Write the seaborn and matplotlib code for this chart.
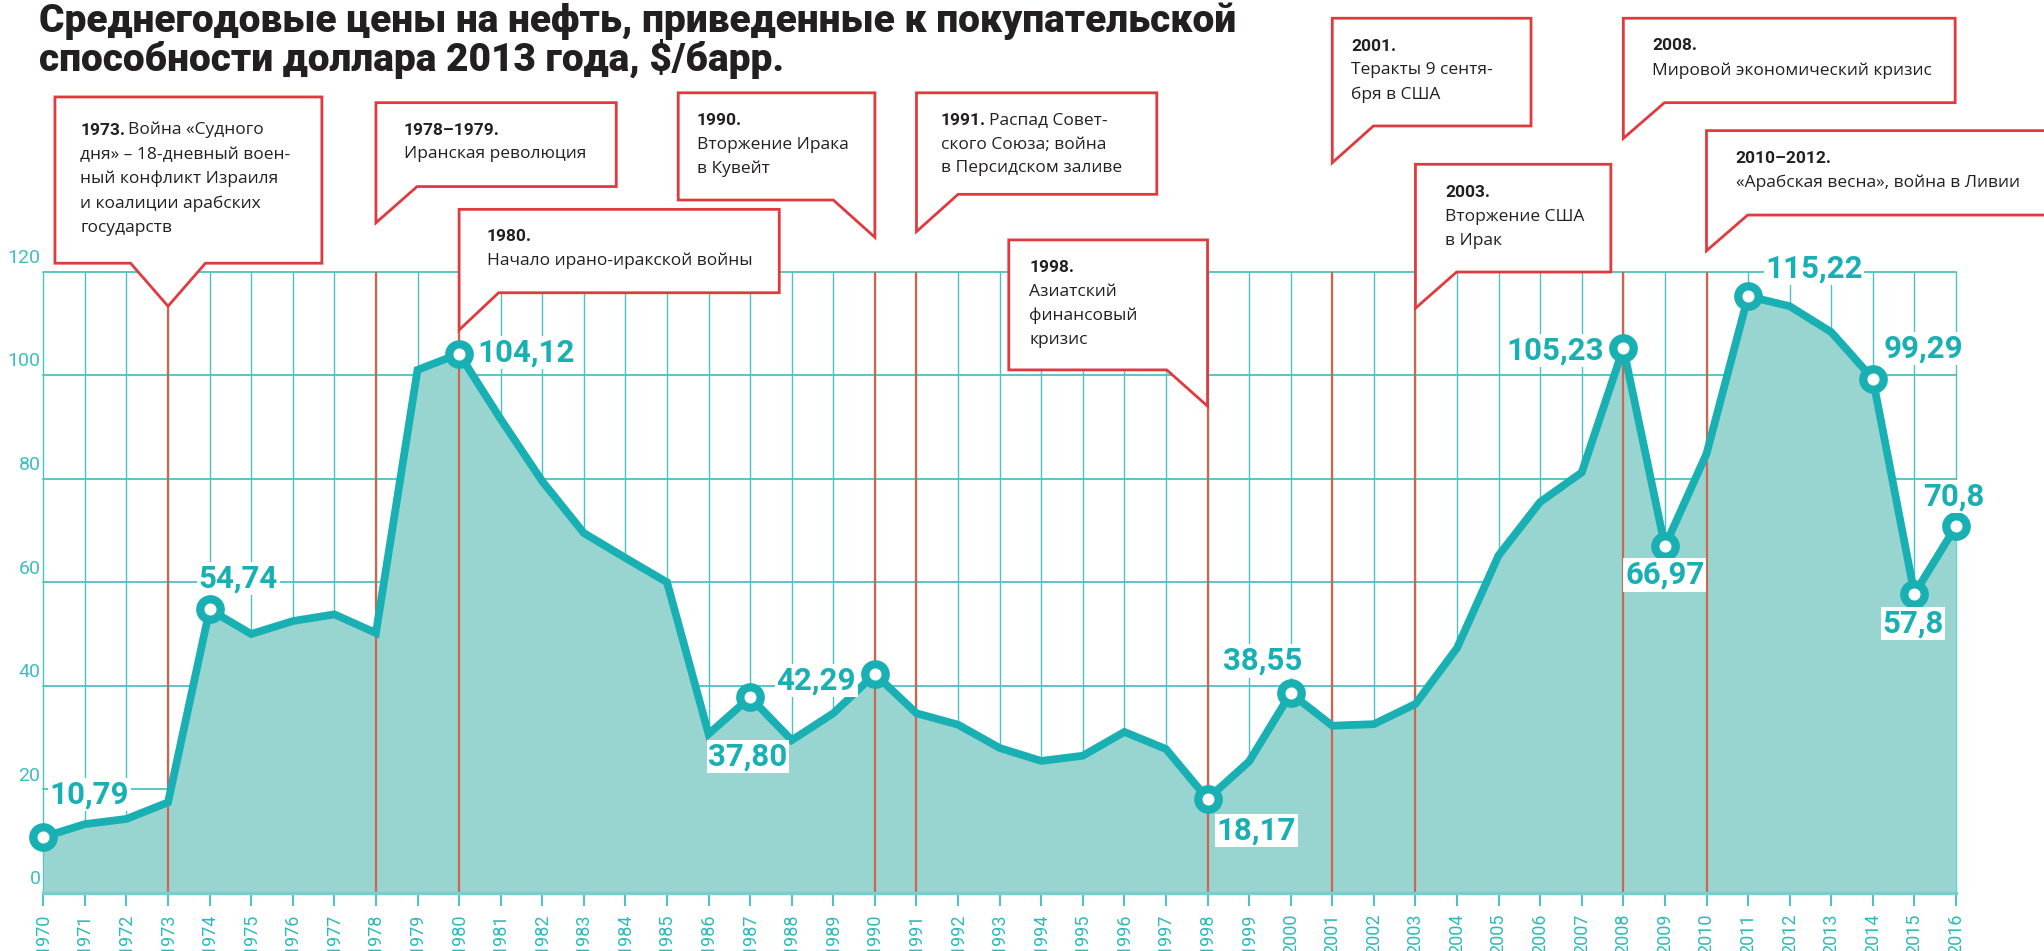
import matplotlib
matplotlib.use("Agg")
import matplotlib.pyplot as plt
import seaborn as sns

# average oil price, $/bbl in 2013 dollars
years = list(range(1970, 2017))
prices = [10.79, 13.3, 14.3, 17.5, 54.74, 50.0, 52.5, 53.8, 50.2, 101.0,
          104.12, 91.5, 79.5, 69.5, 64.7, 60.0, 30.7, 37.80, 29.5, 34.7,
          42.29, 34.7, 32.5, 28.0, 25.5, 26.5, 31.1, 27.8, 18.17, 25.4,
          38.55, 32.3, 32.6, 36.5, 47.3, 65.2, 75.5, 81.2, 105.23, 66.97,
          84.8, 115.22, 113.3, 108.3, 99.29, 57.8, 70.8]

label_years = [1970, 1974, 1980, 1987, 1990, 1998, 2000, 2008, 2009, 2011, 2014, 2015, 2016]
label_texts = ["10,79", "54,74", "104,12", "37,80", "42,29", "18,17", "38,55",
               "105,23", "66,97", "115,22", "99,29", "57,8", "70,8"]
# where each value label sits (x, y, ha)
label_pos = [(1970.15, 19.1, "left"), (1973.74, 60.8, "left"), (1980.43, 104.4, "left"),
             (1986.95, 26.4, "center"), (1989.55, 41.0, "right"), (1998.22, 12.0, "left"),
             (2000.27, 44.8, "right"), (2007.52, 104.8, "right"), (2008.04, 61.4, "left"),
             (2011.41, 120.5, "left"), (2014.25, 105.2, "left"), (2014.97, 52.1, "center"),
             (2015.21, 76.5, "left")]

event_years = [1973, 1978, 1980, 1990, 1991, 1998, 2001, 2003, 2008, 2010]
event_heads = ["1973.", "1978–1979.", "1980.", "1990.", "1991.", "1998.",
               "2001.", "2003.", "2008.", "2010–2012."]
event_lines = [
    ["Война «Судного", "дня» – 18-дневный воен-", "ный конфликт Израиля",
     "и коалиции арабских", "государств"],
    ["", "Иранская революция"],
    ["", "Начало ирано-иракской войны"],
    ["", "Вторжение Ирака", "в Кувейт"],
    ["Распад Совет-", "ского Союза; война", "в Персидском заливе"],
    ["", "Азиатский", "финансовый", "кризис"],
    ["", "Теракты 9 сентя-", "бря в США"],
    ["", "Вторжение США", "в Ирак"],
    ["", "Мировой экономический кризис"],
    ["", "«Арабская весна», война в Ливии"],
]
# callout geometry: left, right, top, bottom, notch x, tip y, tail kind, text x, first line y, line step
boxes = [
    (1970.28, 1976.70, 153.7, 121.6, (1972.1, 1973.9), 113.3, "center", 1970.89, 147.2, 4.68),
    (1978.0, 1983.78, 152.6, 136.4, 1978.99, 129.4, "left", 1978.67, 147.3, 4.7),
    (1980.0, 1987.70, 132.0, 115.9, 1980.95, 108.7, "left", 1980.66, 126.7, 4.7),
    (1985.27, 1990.0, 154.5, 133.8, 1989.0, 126.6, "right", 1985.71, 149.1, 4.6),
    (1991.0, 1996.78, 154.5, 134.9, 1992.0, 127.7, "left", 1991.59, 149.1, 4.6),
    (1993.22, 1998.0, 126.1, 101.0, 1997.02, 94.0, "right", 1993.71, 120.7, 4.65),
    (2001.0, 2005.78, 168.9, 148.1, 2001.99, 141.0, "left", 2001.46, 163.5, 4.65),
    (2003.0, 2007.70, 140.7, 119.9, 2003.99, 112.9, "left", 2003.71, 135.3, 4.7),
    (2008.0, 2015.98, 168.9, 152.6, 2008.99, 145.7, "left", 2008.69, 163.6, 4.8),
    (2010.0, 2019.5, 147.2, 130.9, 2010.99, 124.0, "left", 2010.70, 141.8, 4.7),
]

teal = "#19b0b4"
fill_c = "#98d5d1"
grid_c = "#4cc2c2"
red = "#e03a3f"
red_line = "#d0654f"
dark = "#231f20"

sns.set_theme(style="white")
plt.rcParams["font.family"] = ["Roboto", "DejaVu Sans"]

fig = plt.figure(figsize=(20.44, 9.51), dpi=100)
ax = fig.add_axes([0.02118, 0.06099, 0.93576, 0.65352])
ax.set_xlim(1970, 2016)
ax.set_ylim(0, 120)

ax.set_xticks(years)
ax.set_xticklabels([str(y) for y in years], rotation=90, color="#2db9bb", fontsize=13)
ax.set_yticks(range(0, 121, 20))
ax.set_yticklabels([])
ax.tick_params(axis="x", length=9, width=1.1, color=teal, pad=6, bottom=True)
ax.tick_params(axis="y", length=0)
for v in range(0, 121, 20):
    ax.text(1969.93, v + 0.9, str(v), ha="right", va="bottom", color="#3dbfbf",
            fontsize=14)

ax.grid(True, axis="y", color=grid_c, lw=1.3, zorder=0)
ax.grid(True, axis="x", color=grid_c, lw=1.0, zorder=0)
for gl in ax.get_xgridlines() + ax.get_ygridlines():
    gl.set_clip_on(False)
for s in ["left", "right", "top"]:
    ax.spines[s].set_visible(False)
ax.spines["bottom"].set_color("#79cdcb")
ax.spines["bottom"].set_linewidth(2.5)
ax.spines["bottom"].set_zorder(3)

ax.fill_between(years, prices, 0, color=fill_c, lw=0, zorder=1)

# red event lines up to callout tips
tips = [b[5] for b in boxes]
ax.vlines(event_years, 0, tips, color=red_line, lw=1.6, zorder=2)

sns.lineplot(x=years, y=prices, ax=ax, color=teal, lw=5.6, zorder=4,
             solid_joinstyle="miter")

lab_vals = [prices[years.index(y)] for y in label_years]
sns.scatterplot(x=label_years, y=lab_vals, ax=ax, s=215, color="white",
                edgecolor=teal, linewidth=6.0, zorder=5, clip_on=False)

for txt, (x, y, ha) in zip(label_texts, label_pos):
    ax.text(x, y, txt, ha=ha, va="center", color=teal, fontsize=22.5,
            fontweight="bold", zorder=6,
            bbox=dict(boxstyle="square,pad=0.05", fc="white", ec="none"))

# callouts
for yr, head, lines, b in zip(event_years, event_heads, event_lines, boxes):
    L, R, T, B, notch, tip, kind, tx, ty, step = b
    if kind == "left":
        pts = [(L, T), (R, T), (R, B), (notch, B), (L, tip)]
    elif kind == "right":
        pts = [(L, T), (R, T), (R, tip), (notch, B), (L, B)]
    else:
        pts = [(L, T), (R, T), (R, B), (notch[1], B), (yr, tip), (notch[0], B), (L, B)]
    xs = [p[0] for p in pts]
    ys = [p[1] for p in pts]
    ax.fill(xs, ys, facecolor="white", edgecolor=red, lw=2.0, zorder=7,
            clip_on=False, joinstyle="miter")
    t = ax.text(tx, ty, head, ha="left", va="center", fontsize=12.5,
                fontweight="bold", color=dark, zorder=8, clip_on=False)
    if lines[0]:
        ax.annotate(lines[0], xy=(1, 0), xycoords=t, xytext=(2, 0),
                    textcoords="offset points", ha="left", va="bottom",
                    fontsize=12.5, color=dark, zorder=8,
                    family=["Open Sans", "DejaVu Sans"])
    for i, ln in enumerate(lines[1:], start=1):
        ax.text(tx, ty - i * step, ln, ha="left", va="center", fontsize=12.5,
                color=dark, zorder=8, clip_on=False,
                family=["Open Sans", "DejaVu Sans"])

fig.text(0.019, 0.997,
         "Среднегодовые цены на нефть, приведенные к покупательской\n"
         "способности доллара 2013 года, $/барр.",
         ha="left", va="top", fontsize=28, fontweight="black", color=dark,
         linespacing=0.96)

fig.savefig("out.png", dpi=100)
